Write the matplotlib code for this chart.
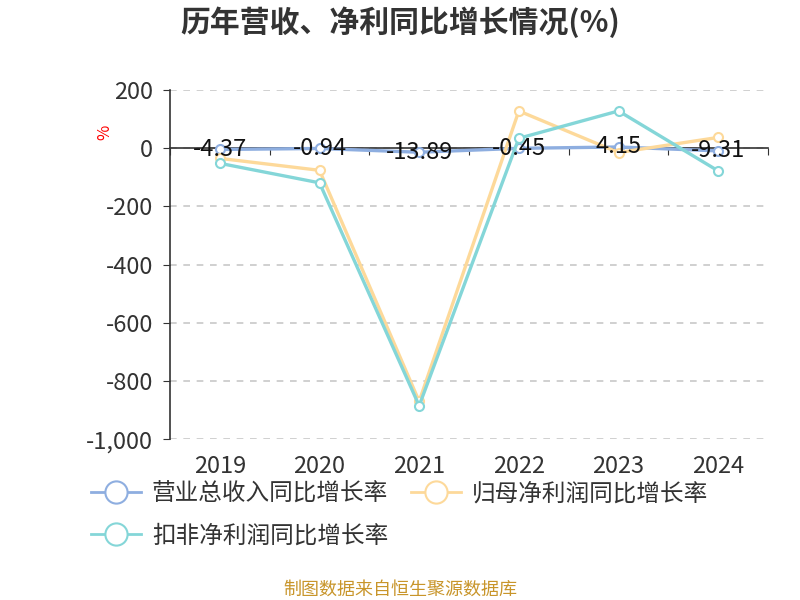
import matplotlib.pyplot as plt
from matplotlib.lines import Line2D
from matplotlib.ticker import FuncFormatter

plt.rcParams['font.family'] = ['Noto Sans CJK SC', 'DejaVu Sans']

years = ["2019", "2020", "2021", "2022", "2023", "2024"]
revenue_growth = [-4.37, -0.94, -13.89, -0.45, 4.15, -9.31]
net_profit_growth = [-35, -76, -870, 128, -15, 37]
deducted_profit_growth = [-52, -119, -885, 34, 128, -78]

series_names = ["营业总收入同比增长率", "归母净利润同比增长率", "扣非净利润同比增长率"]
colors = ["#8eaee0", "#fdd99a", "#84d6d8"]

fig = plt.figure(figsize=(8, 6), dpi=100)
ax = fig.add_axes([0.2125, 0.268, 0.7475, 0.582])

x = list(range(len(years)))
handles = []
for values, name, color in zip(
    [revenue_growth, net_profit_growth, deducted_profit_growth], series_names, colors
):
    ax.plot(
        x, values, color=color, linewidth=2.4, marker="o", markersize=6.5,
        markerfacecolor="white", markeredgecolor=color, markeredgewidth=1.5,
        zorder=3,
    )
    # 图例用大圆圈
    handles.append(Line2D([], [], color=color, linewidth=2, marker="o",
                          markersize=16, markerfacecolor="white",
                          markeredgecolor=color, markeredgewidth=1.5,
                          label=name))

# 营收标签
for xi, v in zip(x, revenue_growth):
    ax.text(xi, v, f"{v:.2f}", ha="center", va="center", fontsize=17,
            color="#111111", zorder=4)

ax.set_xlim(-0.5, 5.5)
ax.set_ylim(-1000, 200)
ax.set_yticks([200, 0, -200, -400, -600, -800, -1000])
ax.yaxis.set_major_formatter(FuncFormatter(lambda v, p: f"{v:,.0f}"))
ax.grid(axis="y", linestyle=(0, (4, 4)), color="#c8c8c8", linewidth=1.2)
ax.set_axisbelow(True)

for s in ["top", "right"]:
    ax.spines[s].set_visible(False)
ax.spines["bottom"].set_position(("data", 0))
ax.spines["bottom"].set_color("#333333")
ax.spines["bottom"].set_linewidth(1.2)
ax.spines["left"].set_color("#333333")
ax.spines["left"].set_linewidth(1.2)

ax.set_xticks([i - 0.5 for i in range(len(years) + 1)])
ax.set_xticklabels([])
ax.tick_params(axis="x", direction="out", length=5, color="#333333")
ax.tick_params(axis="y", direction="out", length=5, color="#333333",
               labelsize=17, labelcolor="#333333", pad=7)
for xi, yr in zip(x, years):
    ax.annotate(yr, (xi, 0), xycoords=("data", "axes fraction"),
                xytext=(0, -27), textcoords="offset pixels",
                ha="center", va="center", fontsize=17, color="#333333")

ax.text(-0.109, 0.88, "%", transform=ax.transAxes, rotation=90, color="red",
        fontsize=12, ha="center", va="center")

fig.text(0.5, 0.963, "历年营收、净利同比增长情况(%)", ha="center", va="center",
         fontsize=21.5, fontweight="bold", color="#333333")

# 图例顺序: 第一行 营收、归母; 第二行 扣非
legend_order = [handles[0], handles[2], handles[1]]
fig.legend(handles=legend_order, loc="upper left", bbox_to_anchor=(0.0875, 0.231),
           ncol=2, frameon=False, fontsize=17, handlelength=2.1,
           columnspacing=0.97, labelspacing=0.8, handletextpad=0.47,
           labelcolor="#333333")

fig.text(0.5, 0.017, "制图数据来自恒生聚源数据库", ha="center", va="center",
         fontsize=13, color="#c8952a")

fig.savefig("out.png")
